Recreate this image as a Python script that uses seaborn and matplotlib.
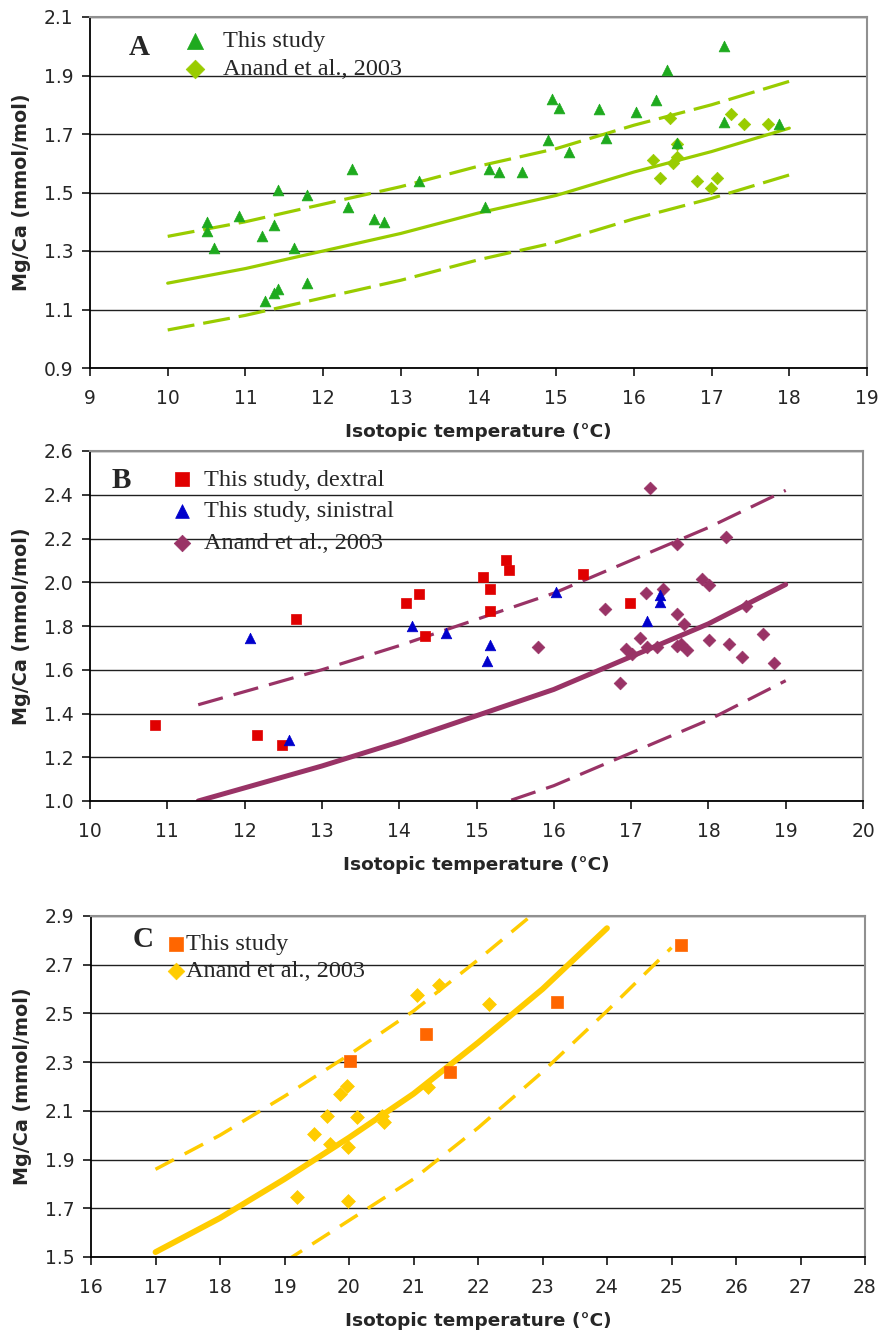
import numpy as np
import pandas as pd
import matplotlib
matplotlib.use("Agg")
import matplotlib.pyplot as plt
import seaborn as sns

sns.set_theme(style="white")
plt.rcParams['font.family'] = ['DejaVu Sans']

# ---------------- Panel A data ----------------
A_study_T = [10.51, 10.51, 10.60, 10.92, 11.21, 11.37, 11.42, 11.25, 11.37, 11.42, 11.62, 11.79,
             11.79, 12.32, 12.37, 12.65, 12.78, 13.24, 14.09, 14.14, 14.26, 14.56, 14.90, 14.95,
             15.03, 15.16, 15.55, 15.64, 16.03, 16.28, 16.42, 16.55, 17.16, 17.16, 17.87]
A_study_Mg = [1.40, 1.37, 1.31, 1.42, 1.35, 1.39, 1.51, 1.13, 1.155, 1.17, 1.31, 1.49,
              1.19, 1.45, 1.58, 1.41, 1.40, 1.54, 1.45, 1.58, 1.57, 1.57, 1.68, 1.82,
              1.79, 1.64, 1.785, 1.685, 1.775, 1.815, 1.92, 1.67, 2.00, 1.74, 1.735]
A_anand_T = [16.46, 17.25, 17.42, 17.73, 16.55, 16.24, 16.55, 16.50, 16.33, 16.81, 17.07, 16.99]
A_anand_Mg = [1.755, 1.77, 1.735, 1.735, 1.665, 1.61, 1.62, 1.60, 1.55, 1.54, 1.55, 1.515]
A_fit_T = [10, 11, 12, 13, 14, 15, 16, 17, 18]
A_fit = [1.19, 1.24, 1.30, 1.36, 1.43, 1.49, 1.57, 1.64, 1.72]
A_upper = [1.35, 1.40, 1.46, 1.52, 1.59, 1.65, 1.73, 1.80, 1.88]
A_lower = [1.03, 1.08, 1.14, 1.20, 1.27, 1.33, 1.41, 1.48, 1.56]
A_xticks = [9, 10, 11, 12, 13, 14, 15, 16, 17, 18, 19]
A_yticks = [0.9, 1.1, 1.3, 1.5, 1.7, 1.9, 2.1]
A_yticklabels = ["0.9", "1.1", "1.3", "1.5", "1.7", "1.9", "2.1"]
A_labels = ["This study", "Anand et al., 2003"]

# ---------------- Panel B data ----------------
B_dex_T = [10.84, 12.16, 12.49, 12.66, 14.09, 14.25, 14.34, 15.08, 15.17, 15.17, 15.38, 15.42, 16.38, 16.99]
B_dex_Mg = [1.347, 1.303, 1.256, 1.834, 1.907, 1.947, 1.756, 2.026, 1.967, 1.868, 2.100, 2.055, 2.040, 1.904]
B_sin_T = [12.07, 12.57, 14.17, 14.60, 15.13, 15.17, 16.03, 17.21, 17.38, 17.38]
B_sin_Mg = [1.743, 1.277, 1.802, 1.769, 1.641, 1.712, 1.956, 1.823, 1.941, 1.909]
B_anand_T = [17.24, 17.60, 18.23, 17.92, 18.01, 17.19, 17.41, 16.66, 17.59, 17.69, 18.49, 15.79, 17.12,
             16.93, 17.01, 17.21, 17.34, 17.59, 17.64, 17.72, 18.01, 18.27, 18.44, 18.71, 18.85, 16.85]
B_anand_Mg = [2.432, 2.175, 2.207, 2.017, 1.986, 1.950, 1.971, 1.878, 1.857, 1.811, 1.890, 1.702, 1.743,
              1.696, 1.674, 1.705, 1.705, 1.708, 1.717, 1.690, 1.738, 1.720, 1.659, 1.763, 1.629, 1.540]
B_fit_T = [11.4, 12, 13, 14, 15, 16, 17, 18, 19]
B_fit = [1.00, 1.06, 1.16, 1.27, 1.39, 1.51, 1.66, 1.81, 1.99]
B_upper = [1.44, 1.50, 1.60, 1.71, 1.83, 1.95, 2.10, 2.25, 2.42]
B_lower_T = [15, 16, 17, 18, 19]
B_lower = [0.95, 1.07, 1.22, 1.37, 1.55]
B_xticks = [10, 11, 12, 13, 14, 15, 16, 17, 18, 19, 20]
B_yticks = [1.0, 1.2, 1.4, 1.6, 1.8, 2.0, 2.2, 2.4, 2.6]
B_yticklabels = ["1.0", "1.2", "1.4", "1.6", "1.8", "2.0", "2.2", "2.4", "2.6"]
B_labels = ["This study, dextral", "This study, sinistral", "Anand et al., 2003"]

# ---------------- Panel C data ----------------
C_study_T = [20.01, 21.20, 21.56, 23.23, 25.15]
C_study_Mg = [2.303, 2.414, 2.258, 2.546, 2.779]
C_anand_T = [21.06, 21.40, 19.97, 19.86, 19.66, 20.12, 19.45, 19.71, 19.98, 20.51, 20.55, 21.23, 19.19, 19.99, 22.17]
C_anand_Mg = [2.576, 2.615, 2.204, 2.168, 2.079, 2.074, 2.004, 1.963, 1.952, 2.077, 2.053, 2.197, 1.745, 1.728, 2.540]
C_fit_T = [17, 18, 19, 20, 21, 22, 23, 24]
C_fit = [1.52, 1.66, 1.82, 1.99, 2.17, 2.38, 2.60, 2.85]
C_upper = [1.86, 2.00, 2.16, 2.33, 2.51, 2.72, 2.94, 3.19]
C_lower_T = [19, 20, 21, 22, 23, 24, 25]
C_lower = [1.48, 1.65, 1.82, 2.03, 2.26, 2.51, 2.77]
C_xticks = [16, 17, 18, 19, 20, 21, 22, 23, 24, 25, 26, 27, 28]
C_yticks = [1.5, 1.7, 1.9, 2.1, 2.3, 2.5, 2.7, 2.9]
C_yticklabels = ["1.5", "1.7", "1.9", "2.1", "2.3", "2.5", "2.7", "2.9"]
C_labels = ["This study", "Anand et al., 2003"]

XLABEL = "Isotopic temperature (°C)"
YLABEL = "Mg/Ca (mmol/mol)"

W, H = 883, 1334
fig = plt.figure(figsize=(W / 100, H / 100), dpi=100)
fig.patch.set_facecolor("white")


def make_ax(l, r, t, b):
    return fig.add_axes([l / W, 1 - b / H, (r - l) / W, (b - t) / H])


def style_ax(ax, xlim, ylim, xticks, yticks, yticklabels):
    ax.set_xlim(*xlim)
    ax.set_ylim(*ylim)
    ax.set_xticks(xticks)
    ax.set_xticklabels([str(v) for v in xticks])
    ax.set_yticks(yticks)
    ax.set_yticklabels(yticklabels)
    ax.set_facecolor("white")
    for y in yticks:
        ax.axhline(y, color="#202020", lw=1.0, zorder=0.5)
    for s in ["left", "bottom"]:
        ax.spines[s].set_color("black")
        ax.spines[s].set_linewidth(1.3)
    for s in ["top", "right"]:
        ax.spines[s].set_color("#909090")
        ax.spines[s].set_linewidth(1.5)
    ax.tick_params(axis="x", which="major", direction="out", length=6, width=1.1,
                   color="black", labelsize=13.5, pad=9, bottom=True)
    ax.tick_params(axis="y", which="major", direction="out", length=6, width=1.1,
                   color="black", labelsize=13.5, pad=6, left=True)
    ax.set_xlabel(XLABEL, fontsize=13.3, fontweight="bold", labelpad=11)
    ax.set_ylabel(YLABEL, fontsize=13.8, fontweight="bold", labelpad=9)
    ax.grid(False)


serif = ["Liberation Serif", "DejaVu Serif"]

# ================= Panel A =================
axA = make_ax(90, 867, 17, 368)
sns.scatterplot(x=A_anand_T, y=A_anand_Mg, marker="D", s=40, color="#99CC00",
                edgecolor="#99CC00", linewidth=0.5, ax=axA, zorder=3)
sns.scatterplot(x=A_study_T, y=A_study_Mg, marker="^", s=60, color="#1EAA1E",
                edgecolor="#1EAA1E", linewidth=0.5, ax=axA, zorder=4)
sns.lineplot(x=A_fit_T, y=A_fit, color="#99CC00", lw=2.3, ax=axA, zorder=2)
sns.lineplot(x=A_fit_T, y=A_upper, color="#99CC00", lw=2.3, ls=(0, (8.5, 2.8)), ax=axA, zorder=2)
sns.lineplot(x=A_fit_T, y=A_lower, color="#99CC00", lw=2.3, ls=(0, (8.5, 2.8)), ax=axA, zorder=2)
style_ax(axA, (9, 19), (0.9, 2.1), A_xticks, A_yticks, A_yticklabels)
hA = [axA.collections[1], axA.collections[0]]
legA = axA.legend(hA, A_labels, loc="upper left", bbox_to_anchor=(0.12, 0.962), frameon=False,
                  prop={"family": serif, "size": 17.5}, markerscale=1.5, handlelength=1.0,
                  handletextpad=0.65, labelspacing=0.25, borderpad=0, borderaxespad=0)
axA.text(0.064, 0.912, "A", transform=axA.transAxes, ha="center", va="center",
         family=serif, fontsize=21, fontweight="bold")

# ================= Panel B =================
axB = make_ax(90, 863, 451, 801)
sns.scatterplot(x=B_anand_T, y=B_anand_Mg, marker="D", s=42, color="#993366",
                edgecolor="#993366", linewidth=0.5, ax=axB, zorder=3)
sns.scatterplot(x=B_dex_T, y=B_dex_Mg, marker="s", s=62, color="#E00000",
                edgecolor="#E00000", linewidth=0.5, ax=axB, zorder=4)
sns.scatterplot(x=B_sin_T, y=B_sin_Mg, marker="^", s=58, color="#0000CC",
                edgecolor="#0000CC", linewidth=0.5, ax=axB, zorder=5)
sns.lineplot(x=B_fit_T, y=B_fit, color="#993366", lw=3.6, ax=axB, zorder=2)
sns.lineplot(x=B_fit_T, y=B_upper, color="#993366", lw=2.3, ls=(0, (8, 3.5)), ax=axB, zorder=2)
sns.lineplot(x=B_lower_T, y=B_lower, color="#993366", lw=2.3, ls=(0, (8, 3.5)), ax=axB, zorder=2)
style_ax(axB, (10, 20), (1.0, 2.6), B_xticks, B_yticks, B_yticklabels)
hB = [axB.collections[1], axB.collections[2], axB.collections[0]]
axB.legend(hB, B_labels, loc="upper left", bbox_to_anchor=(0.1035, 0.95), frameon=False,
           prop={"family": serif, "size": 17.5}, markerscale=1.3, handlelength=1.0,
           handletextpad=0.4, labelspacing=0.4, borderpad=0, borderaxespad=0)
axB.text(0.040, 0.915, "B", transform=axB.transAxes, ha="center", va="center",
         family=serif, fontsize=21, fontweight="bold")

# ================= Panel C =================
axC = make_ax(91, 865, 916, 1257)
sns.scatterplot(x=C_anand_T, y=C_anand_Mg, marker="D", s=50, color="#FFCC00",
                edgecolor="#FFCC00", linewidth=0.5, ax=axC, zorder=3)
sns.scatterplot(x=C_study_T, y=C_study_Mg, marker="s", s=75, color="#FF6600",
                edgecolor="#FF6600", linewidth=0.5, ax=axC, zorder=4)
sns.lineplot(x=C_fit_T, y=C_fit, color="#FFCC00", lw=4.2, ax=axC, zorder=2)
sns.lineplot(x=C_fit_T, y=C_upper, color="#FFCC00", lw=2.5, ls=(0, (6, 3.5)), ax=axC, zorder=2)
sns.lineplot(x=C_lower_T, y=C_lower, color="#FFCC00", lw=2.5, ls=(0, (6, 3.5)), ax=axC, zorder=2)
style_ax(axC, (16, 28), (1.5, 2.9), C_xticks, C_yticks, C_yticklabels)
hC = [axC.collections[1], axC.collections[0]]
axC.legend(hC, C_labels, loc="upper left", bbox_to_anchor=(0.1008, 0.95), frameon=False,
           prop={"family": serif, "size": 17.5}, markerscale=1.2, handlelength=0.6,
           handletextpad=0.08, labelspacing=0.2, borderpad=0, borderaxespad=0)
axC.text(0.067, 0.93, "C", transform=axC.transAxes, ha="center", va="center",
         family=serif, fontsize=21, fontweight="bold")

fig.savefig("out.png", dpi=100, facecolor="white")
